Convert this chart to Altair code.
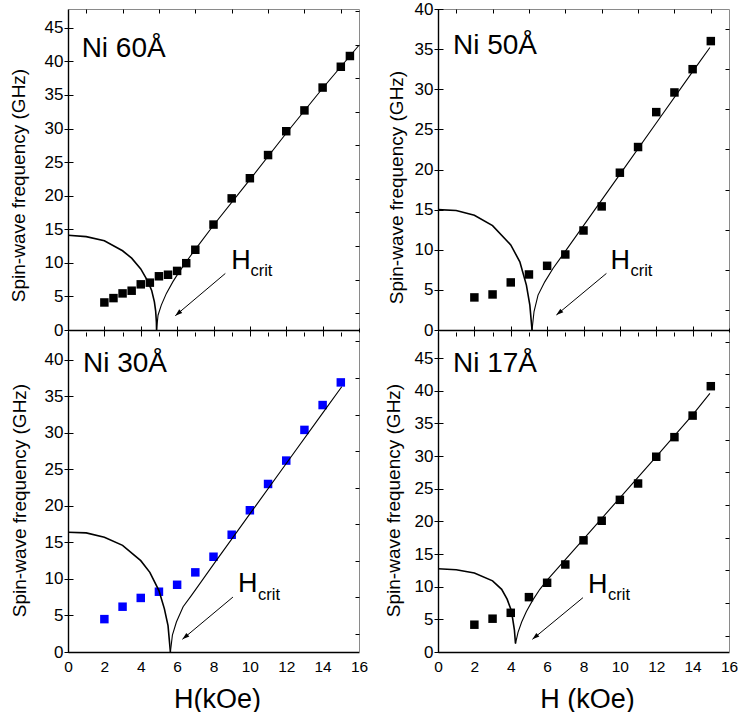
import altair as alt
import pandas as pd

FONT = "Liberation Sans"

# ---------------- data ----------------
# measured points (H in kOe, f in GHz)
TL_H = [2, 2.5, 3, 3.5, 4, 4.5, 5, 5.5, 6, 6.5, 7, 8, 9, 10, 11, 12, 13, 14, 15, 15.5]
TL_F = [4.1, 4.75, 5.45, 5.85, 6.8, 7.05, 8.0, 8.23, 8.8, 9.95, 11.95, 15.7, 19.6, 22.6, 26.05, 29.6, 32.7, 36.1, 39.2, 40.8]
TR_H = [2, 3, 4, 5, 6, 7, 8, 9, 10, 11, 12, 13, 14, 15]
TR_F = [4.06, 4.43, 5.93, 6.92, 8.0, 9.41, 12.4, 15.4, 19.6, 22.8, 27.15, 29.6, 32.5, 36.0]
BL_H = [2, 3, 4, 5, 6, 7, 8, 9, 10, 11, 12, 13, 14, 15]
BL_F = [4.5, 6.2, 7.4, 8.25, 9.2, 10.9, 13.04, 16.05, 19.4, 23.0, 26.2, 30.4, 33.8, 36.9]
BR_H = [2, 3, 4, 5, 6, 7, 8, 9, 10, 11, 12, 13, 14, 15]
BR_F = [4.18, 5.1, 6.0, 8.4, 10.6, 13.4, 17.1, 20.1, 23.3, 25.8, 29.9, 32.9, 36.2, 40.7]

# theory curves, left (soft-mode) branch and right branch
TL_LH = [0, 1, 2, 3, 3.5, 4, 4.4, 4.6, 4.75, 4.82, 4.86, 4.87]
TL_LF = [14.1, 13.9, 13.3, 11.8, 10.7, 9.1, 7.2, 5.9, 4.2, 2.8, 1.2, 0]
TL_RH = [4.87, 4.95, 5.13, 5.41, 5.77, 6.05, 6.51, 6.97, 8, 10, 12, 14, 16]
TL_RF = [0, 2.2, 3.7, 5.45, 7.2, 8.4, 10.2, 11.9, 15.6, 22.4, 29.3, 36.0, 42.4]

TR_LH = [0, 1, 2, 3, 4, 4.5, 4.86, 5.05, 5.17]
TR_LF = [15.0, 14.9, 14.3, 13.0, 10.6, 8.5, 5.6, 3.1, 0]
TR_RH = [5.17, 5.28, 5.5, 5.87, 6.33, 6.84, 8, 10, 12, 14, 14.95]
TR_RF = [0, 2.3, 4.35, 6.0, 7.7, 9.3, 13.0, 19.4, 25.8, 32.2, 35.2]

BL_LH = [0, 1, 2, 3, 4, 4.5, 5, 5.3, 5.5, 5.63]
BL_LF = [16.4, 16.3, 15.7, 14.6, 12.5, 10.9, 8.4, 5.9, 3.6, 0]
BL_RH = [5.63, 5.74, 5.96, 6.33, 6.79, 7.25, 8, 10, 12, 14, 15.05]
BL_RF = [0, 2.3, 4.1, 6.2, 7.75, 9.35, 12.0, 18.9, 25.8, 32.7, 36.3]

BR_LH = [0, 1, 2, 3, 3.5, 3.8, 4.0, 4.1, 4.2, 4.26]
BR_LF = [12.75, 12.6, 12.1, 10.9, 9.6, 8.1, 6.6, 5.2, 3.4, 1.3]
BR_RH = [4.26, 4.4, 4.6, 4.86, 5.2, 5.6, 6, 8, 10, 12, 14, 14.95]
BR_RF = [1.3, 3.0, 4.6, 6.2, 7.9, 9.6, 11.0, 17.3, 23.6, 29.9, 36.3, 39.6]

# labels and annotation anchors (data coordinates)
LABELS = ["Ni 60Å", "Ni 50Å", "Ni 30Å", "Ni 17Å"]
LABEL_H = [0.75, 0.82, 0.82, 0.82]
LABEL_F = [40.7, 34.4, 38.3, 42.9]
HTXT_H = [8.98, 9.49, 9.35, 8.25]
HTXT_F = [9.12, 7.63, 8.21, 9.11]
CRIT_H = [10.03, 10.58, 10.45, 9.35]
CRIT_F = [8.04, 6.72, 7.17, 7.92]
ARR_H0 = [8.65, 9.26, 9.07, 7.97]
ARR_F0 = [8.42, 7.05, 7.52, 8.32]
ARR_H1 = [5.90, 6.51, 6.29, 5.19]
ARR_F1 = [2.13, 1.87, 1.74, 1.94]

# axes
X_MAJOR = [0, 2, 4, 6, 8, 10, 12, 14, 16]
X_MINOR = [1, 3, 5, 7, 9, 11, 13, 15]
Y_MAX = [47.8, 40, 43.8, 49]
Y_MAJOR_45 = [0, 5, 10, 15, 20, 25, 30, 35, 40, 45]
Y_MAJOR_40 = [0, 5, 10, 15, 20, 25, 30, 35, 40]
Y_MINOR_47 = [2.5, 7.5, 12.5, 17.5, 22.5, 27.5, 32.5, 37.5, 42.5, 47.5]
Y_MINOR_37 = [2.5, 7.5, 12.5, 17.5, 22.5, 27.5, 32.5, 37.5]
Y_MINOR_42 = [2.5, 7.5, 12.5, 17.5, 22.5, 27.5, 32.5, 37.5, 42.5]
COLORS = ["#000000", "#000000", "#0000ff", "#000000"]
X_TITLES = ["", "", "H(kOe)", "H (kOe)"]
Y_TITLE = "Spin-wave frequency (GHz)"

ARROW_HEAD = "M0,0 L0.33,1 L-0.33,1 Z"


def panel(i, ph, pf, lh, lf, rh, rf, ymajor, yminor, top_row, ytx, yty, h):
    xs = alt.Scale(domain=[0, 16], nice=False, zero=False)
    ys = alt.Scale(domain=[0, Y_MAX[i]], nice=False, zero=False)
    pts = pd.DataFrame({"H": ph, "f": pf})
    left = pd.DataFrame({"H": lh, "f": lf, "o": list(range(len(lh)))})
    right = pd.DataFrame({"H": rh, "f": rf, "o": list(range(len(rh)))})

    xkw = dict(values=X_MAJOR, ticks=False, grid=False, domain=True,
               domainColor="black", domainWidth=1.4, labelFlush=False,
               labelOverlap=False)
    if top_row:
        xkw.update(labels=False, title=None)
    else:
        xkw.update(labels=True, labelFont=FONT, labelFontSize=15.5,
                   labelColor="black", labelPadding=7,
                   title=X_TITLES[i], titleFont=FONT, titleFontSize=27,
                   titleFontWeight="normal", titleColor="black",
                   titleBaseline="middle", titleX=149, titleY=47)

    base_pts = alt.Chart(pts).mark_square(size=72, opacity=1, color=COLORS[i]).encode(
        x=alt.X("H:Q", scale=xs, axis=alt.Axis(**xkw)),
        y=alt.Y("f:Q", scale=ys, axis=alt.Axis(
            values=ymajor, ticks=False, grid=False, domain=True,
            domainColor="black", domainWidth=1.4, labelFont=FONT,
            labelFontSize=17, labelColor="black", labelPadding=5,
            labelOverlap=False, labelFlush=False,
            title=Y_TITLE, titleFont=FONT, titleFontSize=19,
            titleFontWeight="normal", titleColor="black",
            titleBaseline="middle", titleX=ytx, titleY=yty)),
    )

    border_x = alt.Axis(orient="top", ticks=False, labels=False, grid=False,
                        domainColor="#8a8a8a", domainWidth=1, title=None)
    left_line = alt.Chart(left).mark_line(color="black", strokeWidth=1.6).encode(
        x=alt.X("H:Q", scale=xs, axis=border_x if top_row else None),
        y=alt.Y("f:Q", scale=ys, axis=alt.Axis(
            orient="right", ticks=False, labels=False, grid=False,
            domainColor="#8a8a8a", domainWidth=1, title=None)),
        order="o:Q",
    )
    right_line = alt.Chart(right).mark_line(color="black", strokeWidth=1.1).encode(
        x=alt.X("H:Q", scale=xs, axis=None),
        y=alt.Y("f:Q", scale=ys, axis=None),
        order="o:Q",
    )

    major = alt.Chart(pts).mark_point(opacity=0).encode(
        x=alt.X("H:Q", scale=xs, axis=alt.Axis(
            values=X_MAJOR, ticks=True, tickSize=8, offset=-4, tickColor="black",
            tickWidth=1, labels=False, domain=False, grid=False, title=None)),
        y=alt.Y("f:Q", scale=ys, axis=alt.Axis(
            values=ymajor, ticks=True, tickSize=9, offset=-5, tickColor="black",
            tickWidth=1, labels=False, domain=False, grid=False, title=None)),
    )
    minor = alt.Chart(pts).mark_point(opacity=0).encode(
        x=alt.X("H:Q", scale=xs, axis=alt.Axis(
            values=X_MINOR, ticks=True, tickSize=4, offset=-4, tickColor="black",
            tickWidth=1, labels=False, domain=False, grid=False, title=None)),
        y=alt.Y("f:Q", scale=ys, axis=alt.Axis(
            values=yminor, ticks=True, tickSize=4, offset=-4, tickColor="black",
            tickWidth=1, labels=False, domain=False, grid=False, title=None)),
    )

    arr = pd.DataFrame({"H0": [ARR_H0[i]], "F0": [ARR_F0[i]],
                        "H1": [ARR_H1[i]], "F1": [ARR_F1[i]]})
    arrow = alt.Chart(arr).mark_rule(color="black", strokeWidth=1).encode(
        x=alt.X("H0:Q", scale=xs, axis=None), y=alt.Y("F0:Q", scale=ys, axis=None),
        x2="H1:Q", y2="F1:Q")
    head = alt.Chart(arr).mark_point(shape=ARROW_HEAD, filled=True, size=200,
                                     angle=230, color="black", opacity=1).encode(
        x=alt.X("H1:Q", scale=xs, axis=None), y=alt.Y("F1:Q", scale=ys, axis=None))

    def txt(t, hh, ff, fs):
        d = pd.DataFrame({"t": [t], "H": [hh], "f": [ff]})
        return alt.Chart(d).mark_text(align="left", baseline="alphabetic", font=FONT,
                                      fontSize=fs, color="black").encode(
            x=alt.X("H:Q", scale=xs, axis=None), y=alt.Y("f:Q", scale=ys, axis=None),
            text="t:N")

    t1 = txt(LABELS[i], LABEL_H[i], LABEL_F[i], 28)
    t2 = txt("H", HTXT_H[i], HTXT_F[i], 27)
    t3 = txt("crit", CRIT_H[i], CRIT_F[i], 16.5)

    return alt.layer(base_pts, left_line, right_line, major, minor, arrow, head,
                     t1, t2, t3).resolve_axis(x="independent", y="independent").properties(
        width=291, height=h)


p1 = panel(0, TL_H, TL_F, TL_LH, TL_LF, TL_RH, TL_RF, Y_MAJOR_45, Y_MINOR_47, True, -50, 176, 321)
p2 = panel(1, TR_H, TR_F, TR_LH, TR_LF, TR_RH, TR_RF, Y_MAJOR_40, Y_MINOR_37, True, -42, 178, 321)
p3 = panel(2, BL_H, BL_F, BL_LH, BL_LF, BL_RH, BL_RF, Y_MAJOR_40, Y_MINOR_42, False, -49, 168, 320)
p4 = panel(3, BR_H, BR_F, BR_LH, BR_LF, BR_RH, BR_RF, Y_MAJOR_45, Y_MINOR_47, False, -45, 168, 320)

chart = alt.concat(p1, p2, p3, p4, columns=2, bounds="flush",
                   spacing={"row": 2, "column": 79}).properties(
    padding={"left": 9, "top": 0, "right": 0, "bottom": 0},
    background="white",
).configure_view(strokeWidth=0)

chart.save("out.html", embed_options={"renderer": "svg", "actions": False})
